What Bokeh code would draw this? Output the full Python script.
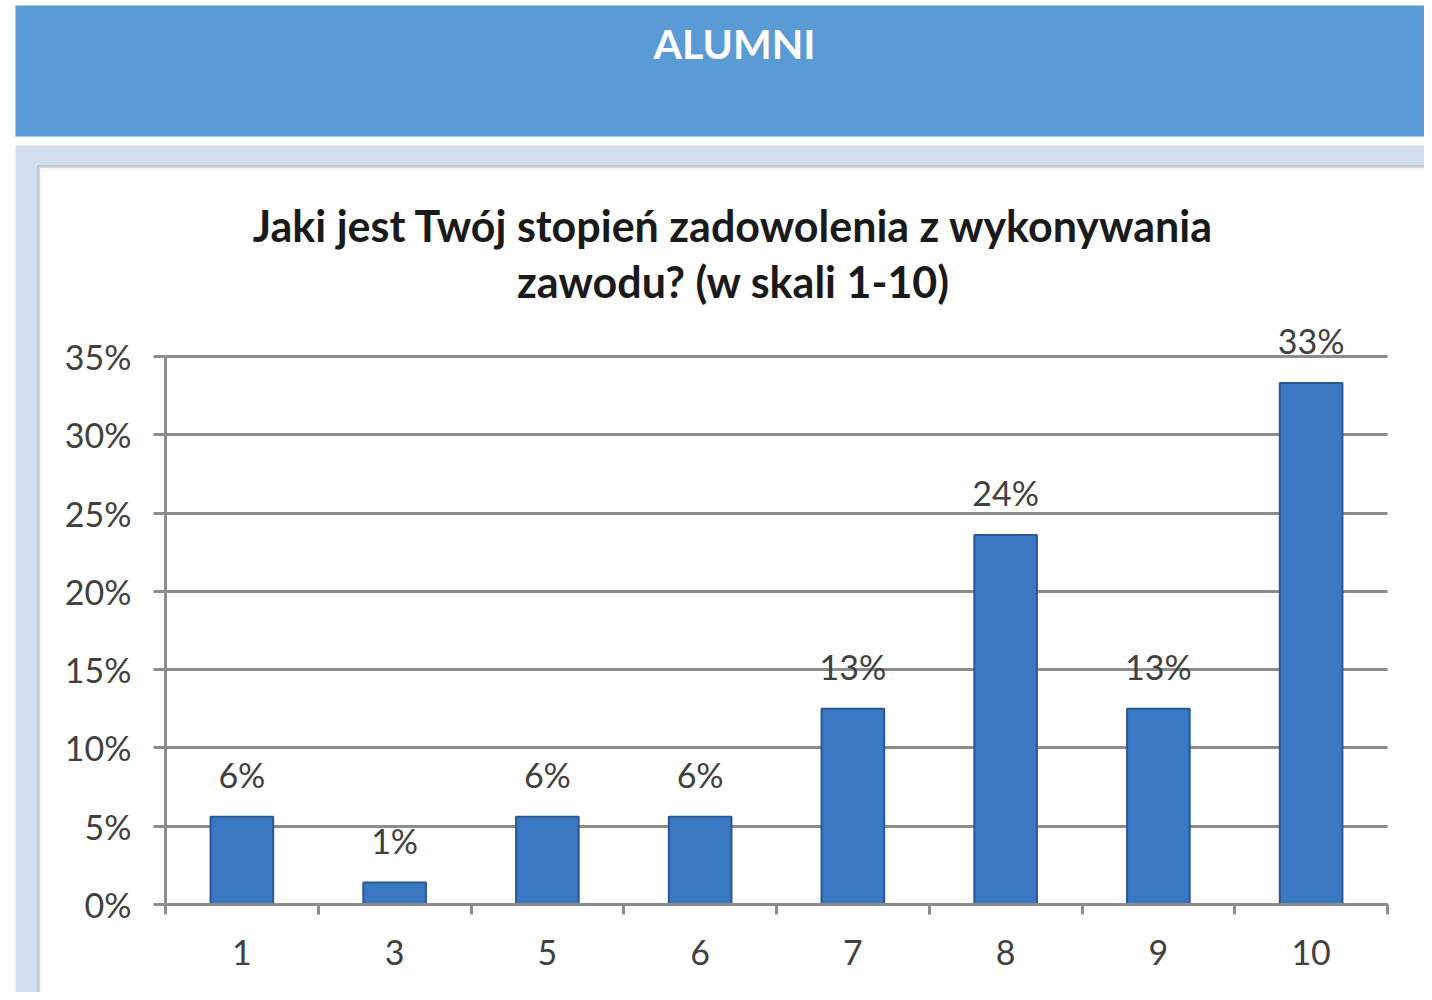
from bokeh.plotting import figure
from bokeh.models import (ColumnDataSource, FixedTicker, PrintfTickFormatter,
                          BoxAnnotation, Label, LabelSet, Range1d)
from bokeh.core.properties import value
from bokeh.embed import file_html
from bokeh.resources import INLINE

# ---- data ----
categories = ["1", "3", "5", "6", "7", "8", "9", "10"]
values = [5.6, 1.4, 5.6, 5.6, 12.5, 23.6, 12.5, 33.3]
value_labels = ["6%", "1%", "6%", "6%", "13%", "24%", "13%", "33%"]
y_ticks = [0, 5, 10, 15, 20, 25, 30, 35]
header_text = "ALUMNI"
title_lines = ["Jaki jest Twój stopień zadowolenia z wykonywania", "zawodu? (w skali 1-10)"]

FONT = "Lato"
W, H = 1424, 992

# plot-area placement on the canvas (pixels)
PL, PR, PT, PB = 165, 1387, 356, 904
n = len(categories)
Y_MAX = y_ticks[-1]
sx = (PR - PL) / n
sy = (PB - PT) / Y_MAX

xs = [i + 0.5 for i in range(n)]
bounds = list(range(n + 1))

p = figure(width=W, height=H, output_backend="svg", toolbar_location=None,
           x_range=Range1d(-PL / sx, n + (W - PR) / sx),
           y_range=Range1d(-(H - PB) / sy, Y_MAX + PT / sy),
           min_border=0)
p.title.visible = False
p.outline_line_color = None
p.background_fill_color = "white"
p.border_fill_color = "white"


def cbox(l, r, t, b, **kw):
    bx = BoxAnnotation(left=l, right=r, top=t, bottom=b,
                       left_units="canvas", right_units="canvas",
                       top_units="canvas", bottom_units="canvas",
                       level="image", **kw)
    p.add_layout(bx)


# ---- decorations (canvas units) ----
cbox(15, W + 5, 145, H + 5, fill_color="#D3DEEF", fill_alpha=1, line_color=None)
cbox(15, W + 5, 5, 136, fill_color="#5A9AD5", fill_alpha=1, line_color="#9DC3E6", line_width=1)
cbox(38, 1429, 166, H + 10, fill_color="white", fill_alpha=1, line_color="#808080", line_width=3)
cbox(41, 1426, 169, H + 10, fill_color=None, fill_alpha=0, line_color="#DCDCDC", line_width=2)

p.add_layout(Label(x=734, y=43, x_units="canvas", y_units="canvas", text=header_text,
                   text_align="center", text_baseline="middle", text_color="white",
                   text_font=FONT, text_font_style="bold", text_font_size="41px"))
for line, ly in zip(title_lines, [225, 281]):
    p.add_layout(Label(x=733, y=ly, x_units="canvas", y_units="canvas", text=line,
                       text_align="center", text_baseline="middle", text_color="#1A1A1A",
                       text_font=FONT, text_font_style="bold", text_font_size="43px"))

# ---- bars ----
src = ColumnDataSource(dict(x=xs, top=values, label=value_labels, cat=categories))
p.vbar(x="x", top="top", width=0.41, bottom=0, source=src,
       fill_color="#3A78C4", line_color="#2A5894", line_width=2)

p.add_layout(LabelSet(x="x", y="top", text="label", source=src, y_offset=22,
                      text_align="center", text_baseline="bottom", text_color="#404040",
                      text_font=value(FONT), text_font_size=value("34px")))

# ---- grid & axes ----
GRID = "#8C8C8C"
g = p.ygrid[0]
g.ticker = FixedTicker(ticks=y_ticks)
g.grid_line_color = GRID
g.grid_line_width = 3
try:
    g.cross_bounds = (0, n)
except AttributeError:
    g.grid_line_color = None
    p.segment(x0=[0] * len(y_ticks), x1=[n] * len(y_ticks), y0=y_ticks, y1=y_ticks,
              line_color=GRID, line_width=3, level="underlay")
p.xgrid.grid_line_color = None

ya = p.yaxis[0]
ya.fixed_location = 0
ya.bounds = (0, Y_MAX)
ya.ticker = FixedTicker(ticks=y_ticks)
ya.formatter = PrintfTickFormatter(format="%d%%")
ya.axis_line_color = GRID
ya.axis_line_width = 3
ya.major_tick_line_color = GRID
ya.major_tick_line_width = 3
ya.major_tick_out = 12
ya.major_tick_in = 0
ya.minor_tick_line_color = None
ya.major_label_standoff = 22
ya.major_label_text_font = FONT
ya.major_label_text_font_size = "34px"
ya.major_label_text_color = "#404040"

xa = p.xaxis[0]
xa.fixed_location = 0
xa.bounds = (0, n)
xa.ticker = FixedTicker(ticks=xs, minor_ticks=bounds)
xa.major_label_overrides = {x: c for x, c in zip(xs, categories)}
xa.axis_line_color = GRID
xa.axis_line_width = 3
xa.major_tick_line_color = None
xa.major_tick_out = 10
xa.minor_tick_line_color = GRID
xa.minor_tick_line_width = 3
xa.minor_tick_out = 10
xa.minor_tick_in = 0
xa.major_label_standoff = 25
xa.major_label_text_font = FONT
xa.major_label_text_font_size = "34px"
xa.major_label_text_color = "#404040"

open("out.html", "w").write(file_html(p, INLINE))
